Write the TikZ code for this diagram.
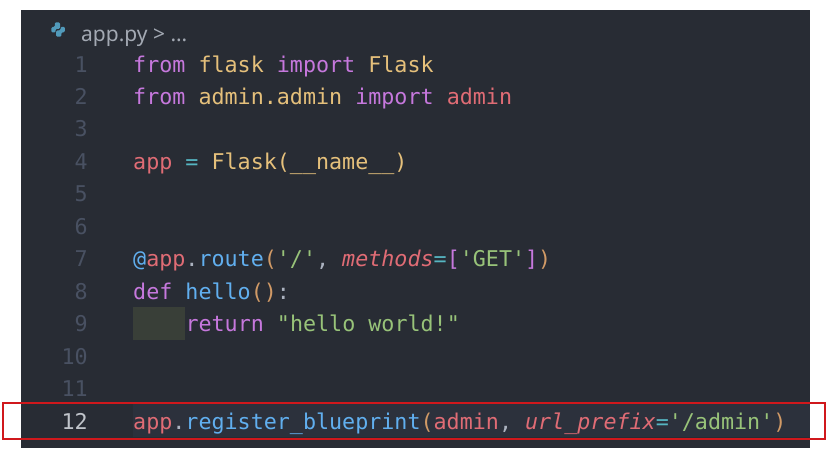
\documentclass[tikz,border=0pt]{standalone}
\usepackage{fontspec}
\setmainfont{Noto Sans}
\setmonofont{DejaVu Sans Mono}
\definecolor{editorbg}{HTML}{282C34}
\definecolor{curline}{HTML}{2C313C}
\definecolor{indentbg}{HTML}{393F38}
\definecolor{keyword}{HTML}{C678DD}
\definecolor{module}{HTML}{E5C07B}
\definecolor{variable}{HTML}{E06C75}
\definecolor{operator}{HTML}{56B6C2}
\definecolor{function}{HTML}{61AFEF}
\definecolor{string}{HTML}{98C379}
\definecolor{bracket}{HTML}{D19A66}
\definecolor{plain}{HTML}{ABB2BF}
\definecolor{crumbtext}{HTML}{A3A9B3}
\definecolor{lineno}{HTML}{495162}
\definecolor{curno}{HTML}{C0C4CA}
\definecolor{pyblue}{HTML}{519ABA}
\definecolor{redmark}{HTML}{D0181C}
\newcommand{\hlkw}[1]{\textcolor{keyword}{#1}}
\newcommand{\hlmd}[1]{\textcolor{module}{#1}}
\newcommand{\hlvr}[1]{\textcolor{variable}{#1}}
\newcommand{\hlop}[1]{\textcolor{operator}{#1}}
\newcommand{\hlfn}[1]{\textcolor{function}{#1}}
\newcommand{\hlst}[1]{\textcolor{string}{#1}}
\newcommand{\hlbr}[1]{\textcolor{bracket}{#1}}
\newcommand{\hlpl}[1]{\textcolor{plain}{#1}}
\newcommand{\hlpr}[1]{\textcolor{variable}{\itshape #1}}
\tikzset{
  code/.style={anchor=base west,inner sep=0pt,font=\ttfamily\fontsize{21.7}{26}\selectfont\frenchspacing},
  lineno/.style={anchor=base east,inner sep=0pt,text=lineno,font=\ttfamily\fontsize{21.7}{26}\selectfont},
  header/.style={anchor=base west,inner sep=0pt,text=crumbtext,font=\fontsize{21}{25}\selectfont}
}

\begin{document}
\begin{tikzpicture}[x=1pt,y=-1pt]
  \useasboundingbox[fill=white] (0,0) rectangle (832,456);
  \fill[editorbg] (21,10) rectangle (810,448);
  \fill[curline] (133,403) rectangle (810,437);
  \fill[indentbg] (133,307) rectangle (185,340);
  % breadcrumb
  \begin{scope}[shift={(50.5,22)},scale=0.95]
    \fill[pyblue,rounded corners=1.2pt] (4.5,0.5) -- (10,0.5) -- (10,7.2) -- (5.4,7.2) -- (5.4,11) -- (1,11) -- (1,5.2) -- (4.5,5.2) -- cycle;
    \fill[pyblue,rounded corners=1.2pt] (11.5,15.5) -- (6,15.5) -- (6,8.8) -- (10.6,8.8) -- (10.6,5) -- (15,5) -- (15,10.8) -- (11.5,10.8) -- cycle;
  \end{scope}
  \node[header] (file) at (81,41.3) {app.py > …};
  % gutter
  \foreach \n in {1,...,11}
    \node[lineno] (n\n) at (88,{72+32.45*(\n-1)}) {\n};
  \node[lineno,text=curno] (n12) at (88,429) {12};
  % code
  \node[code] (c1) at (133,72) {\hlkw{from} \hlmd{flask} \hlkw{import} \hlmd{Flask}};
  \node[code] (c2) at (133,104.45) {\hlkw{from} \hlmd{admin.admin} \hlkw{import} \hlvr{admin}};
  \node[code] (c4) at (133,169.35) {\hlvr{app} \hlop{=} \hlmd{Flask(\_\_name\_\_)}};
  \node[code] (c7) at (133,266.7) {\hlfn{@}\hlvr{app}\hlpl{.}\hlfn{route}\hlbr{(}\hlst{'/'}\hlpl{,} \hlpr{methods}\hlop{=}\hlkw{[}\hlst{'GET'}\hlkw{]}\hlbr{)}};
  \node[code] (c8) at (133,299.15) {\hlkw{def} \hlfn{hello}\hlbr{()}\hlpl{:}};
  \node[code] (c9) at (185.3,331.6) {\hlkw{return} \hlst{"hello world!"}};
  \node[code] (c12) at (133,429) {\hlvr{app}\hlpl{.}\hlfn{register\_blueprint}\hlbr{(}\hlvr{admin}\hlpl{,} \hlpr{url\_prefix}\hlop{=}\hlst{'/admin'}\hlbr{)}};
  % marker
  \draw[redmark,line width=2pt] (3,402.5) rectangle (824.5,439);
\end{tikzpicture}
\end{document}
